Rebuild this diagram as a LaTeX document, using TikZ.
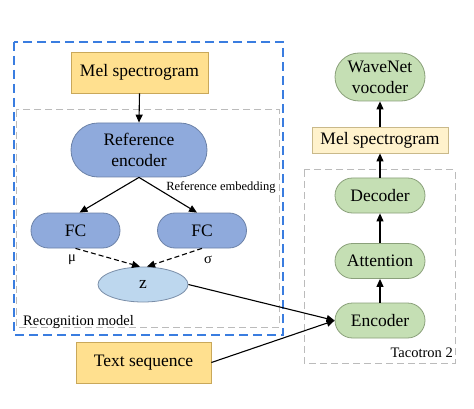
\documentclass[tikz,border=0pt]{standalone}
\usepackage{fontspec}
\setmainfont{Liberation Serif}
\newfontfamily\timesfam{Liberation Serif}
\usetikzlibrary{shapes.misc,shapes.geometric,arrows.meta}
\definecolor{melY}{HTML}{FFE08F}
\definecolor{melYd}{HTML}{C9A85A}
\definecolor{lightY}{HTML}{FFF2CC}
\definecolor{lightYd}{HTML}{C9B98A}
\definecolor{blueF}{HTML}{8FAADC}
\definecolor{blueD}{HTML}{6C82A8}
\definecolor{zF}{HTML}{BDD7EE}
\definecolor{zD}{HTML}{7A8EA8}
\definecolor{greenF}{HTML}{C5DFB4}
\definecolor{greenD}{HTML}{8AA07A}
\definecolor{frameBlue}{HTML}{3A7DE0}
\definecolor{frameGray}{HTML}{BBBBBB}
\begin{document}
\begin{tikzpicture}[x=1pt,y=-1pt,
  font=\timesfam\fontsize{17.5}{21}\selectfont,
  ybox/.style={rectangle,draw=melYd,fill=melY,line width=0.8pt,inner sep=0pt},
  lybox/.style={rectangle,draw=lightYd,fill=lightY,line width=0.8pt,inner sep=0pt},
  bluepill/.style={rounded rectangle,draw=blueD,fill=blueF,line width=0.8pt,inner sep=0pt,align=center},
  greenpill/.style={rounded rectangle,draw=greenD,fill=greenF,line width=0.8pt,inner sep=0pt,align=center,minimum width=90pt},
  zell/.style={ellipse,draw=zD,fill=zF,line width=0.8pt,inner sep=0pt},
  arr/.style={-{Triangle[length=8pt,width=7pt]},line width=1.1pt,black},
  dasharr/.style={arr,dash pattern=on 5pt off 3pt},
  bluebox/.style={draw=frameBlue,line width=2.2pt,dash pattern=on 9pt off 5pt},
  graybox/.style={draw=frameGray,line width=1pt,dash pattern=on 7pt off 4pt},
  small/.style={font=\timesfam\fontsize{14.5}{16}\selectfont,inner sep=0pt},
  tiny/.style={font=\timesfam\fontsize{12.5}{14}\selectfont,inner sep=0pt}]
\useasboundingbox (0,0) rectangle (474,409);
\fill[white] (0,0) rectangle (474,409);

% frames
\draw[graybox] (16,110) rectangle (279,327);
\draw[bluebox] (14,42) rectangle (283,335);
\draw[graybox] (304,170) rectangle (455,363);

% left nodes
\node[ybox,minimum width=137pt,minimum height=41pt] (mel1) at (139.5,72.5) {Mel spectrogram};
\node[bluepill,minimum width=136pt,minimum height=54pt] (refenc) at (139,150) {Reference\\encoder};
\node[bluepill,minimum width=89pt,minimum height=35pt] (fc1) at (75.5,230.5) {FC};
\node[bluepill,minimum width=89pt,minimum height=35pt] (fc2) at (202,230.5) {FC};
\node[zell,minimum width=90pt,minimum height=35pt] (z) at (143,284.5) {z};
\node[ybox,minimum width=135pt,minimum height=41pt] (textseq) at (143.5,362.5) {Text sequence};

% right nodes
\node[greenpill,minimum height=48pt] (wavenet) at (380,77) {WaveNet\\vocoder};
\node[lybox,minimum width=136pt,minimum height=26pt] (mel2) at (380,140) {Mel spectrogram};
\node[greenpill,minimum height=35pt] (dec) at (380,195.5) {Decoder};
\node[greenpill,minimum height=35pt] (att) at (380,261) {Attention};
\node[greenpill,minimum height=35pt] (enc) at (380,320.5) {Encoder};

% labels
\node[tiny] (refemb) at (221,187) {Reference embedding};
\node[small] (mu) at (72,260) {μ};
\node[small] (sigma) at (208,260) {σ};
\node[small,anchor=west] (recog) at (23,322) {Recognition model};
\node[small,anchor=east] (taco) at (453,353) {Tacotron 2};

% connectors
\draw[arr] (mel1.south) -- (refenc.north);
\draw[arr] (refenc.south) -- ([xshift=4pt]fc1.north);
\draw[arr] (refenc.south) -- ([xshift=-5pt]fc2.north);
\draw[dasharr] (fc1.south) -- ([xshift=-3pt]z.north);
\draw[dasharr] (fc2.south) -- ([xshift=4pt]z.north);
\draw[arr] (z.east) -- (enc.west);
\draw[arr] (textseq.east) -- (enc.west);
\draw[arr] (enc.north) -- (att.south);
\draw[arr] (att.north) -- (dec.south);
\draw[arr] (dec.north) -- (mel2.south);
\draw[arr] (mel2.north) -- (wavenet.south);
\end{tikzpicture}
\end{document}
